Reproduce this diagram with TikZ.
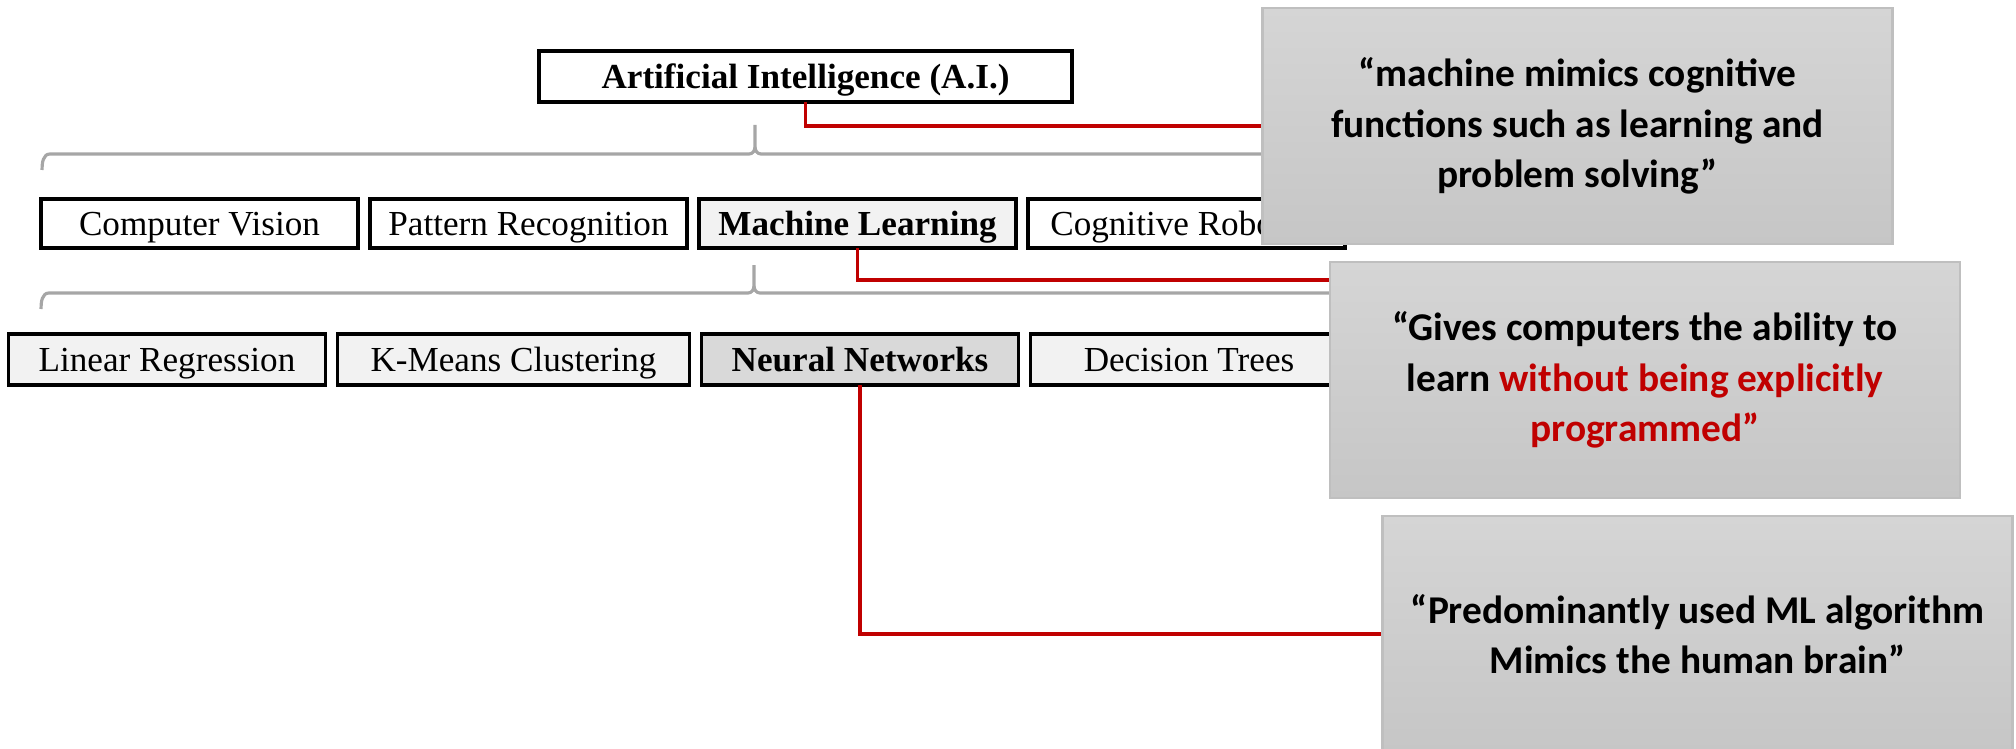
\documentclass[tikz,border=0pt]{standalone}
\usepackage{fontspec}
\setmainfont{Liberation Serif}
\newfontfamily\calloutfont{Carlito}
\usetikzlibrary{positioning}
\definecolor{mlred}{HTML}{C00000}
\definecolor{boxgray}{HTML}{F2F2F2}
\definecolor{nngray}{HTML}{D9D9D9}
\definecolor{bracegray}{HTML}{A6A6A6}
\definecolor{calltop}{HTML}{D5D5D5}
\definecolor{callbottom}{HTML}{C6C6C6}
\definecolor{callborder}{HTML}{BFBFBF}

\begin{document}
\begin{tikzpicture}[
    field/.style={
        rectangle,
        draw,
        line width=0.9pt,
        minimum width=3.17cm,
        minimum height=0.49cm,
        inner sep=0pt,
        outer sep=0pt,
        text height=0.8em,
        text depth=0.12em,
        font=\fontsize{10}{12}\selectfont
    },
    strong/.style={font=\fontsize{10}{12}\selectfont\bfseries},
    callout/.style={
        rectangle,
        draw=callborder,
        line width=0.6pt,
        top color=calltop,
        bottom color=callbottom,
        minimum width=6.3cm,
        minimum height=2.36cm,
        align=center,
        font=\calloutfont\bfseries\fontsize{11.2}{14.4}\selectfont
    },
    bracket/.style={draw=bracegray, line width=0.9pt},
    link/.style={draw=mlred, line width=0.9pt},
    node distance=0.12cm
]
\useasboundingbox (0,0) rectangle (20.16,-7.48);

% top level
\node[field, strong, minimum width=5.33cm, minimum height=0.51cm] (ai) at (8.055,-0.765) {Artificial Intelligence (A.I.)};

% brackets under each level
\draw[bracket] (0.42,-1.70) to[out=90,in=180] (0.50,-1.54) -- (7.49,-1.54) to[out=0,in=-90] (7.55,-1.47) -- (7.55,-1.25);
\draw[bracket] (7.55,-1.47) to[out=-90,in=180] (7.61,-1.54) -- (14.60,-1.54) to[out=0,in=90] (14.68,-1.70);
\draw[bracket] (0.41,-3.09) to[out=90,in=180] (0.49,-2.93) -- (7.48,-2.93) to[out=0,in=-90] (7.54,-2.86) -- (7.54,-2.65);
\draw[bracket] (7.54,-2.86) to[out=-90,in=180] (7.60,-2.93) -- (14.59,-2.93) to[out=0,in=90] (14.67,-3.09);

% fields of A.I.
\node[field] (cv) at (1.995,-2.235) {Computer Vision};
\node[field, right=of cv] (pr) {Pattern Recognition};
\node[field, strong, fill=boxgray, right=of pr] (ml) {Machine Learning};
\node[field, right=of ml] (cr) {Cognitive Robotics};

% methods of M.L.
\node[field, fill=boxgray, minimum height=0.51cm] (lr) at (1.67,-3.595) {Linear Regression};
\node[field, fill=boxgray, minimum height=0.51cm, minimum width=3.52cm, right=of lr] (km) {K-Means Clustering};
\node[field, strong, fill=nngray, minimum height=0.51cm, right=of km] (nn) {Neural Networks};
\node[field, fill=boxgray, minimum height=0.51cm, right=of nn] (dt) {Decision Trees};

% definitions
\node[callout] (defai) at (15.775,-1.26) {“machine mimics cognitive\\functions such as learning and\\problem solving”};
\node[callout] (defml) at (16.45,-3.80) {“Gives computers the ability to\\learn \textcolor{mlred}{without being explicitly}\\\textcolor{mlred}{programmed”}};
\node[callout] (defnn) at (16.975,-6.34) {“Predominantly used ML algorithm\\Mimics the human brain”};

\draw[link] (ai.south) |- (defai.west);
\draw[link] (ml.south) |- ([yshift=-0.19cm]defml.north west);
\draw[link] (nn.south) |- (defnn.west);
\end{tikzpicture}
\end{document}
